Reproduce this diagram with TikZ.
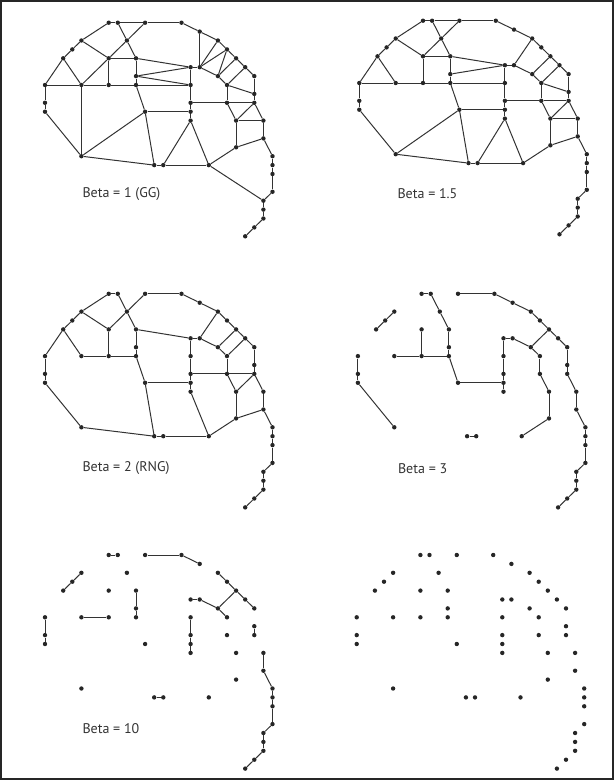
\documentclass[tikz,border=0pt]{standalone}
\usepackage{fontspec}
\setmainfont{PT Sans}
\usetikzlibrary{positioning}

% grid step of the point set
\newcommand\gx{9.1}
\newcommand\gy{8.9}
% the point set, in grid units
\newcommand\pointset{%
  \foreach \i/\j in {7/0,8/0,11/0,15/0,17/1,19/2,20/3,21/4,22/5,23/6,
      4/2,9/2,3/3,2/4,7/4,10/4,16/5,17/5,10/6,19/6,0/7,4/7,7/7,10/7,
      16/7,20/7,23/8,0/9,16/9,20/9,23/9,0/10,11/10,16/10,16/11,21/11,
      24/11,24/13,21/14,4/15,25/15,12/16,13/16,18/16,25/16,25/17,25/19,
      24/20,24/21,24/22,23/23,22/24}
    \node[dot] (p\i-\j) at (\i*\gx,\j*\gy) {};%
}

\begin{document}
\begin{tikzpicture}[x=1pt,y=-1pt,
    dot/.style={circle, fill=black!85, inner sep=0pt, minimum size=4.4pt},
    link/.style={line width=1pt, black!80},
    lbl/.style={anchor=west, font=\fontsize{14}{16}\selectfont, text=black!80},
  ]
  \useasboundingbox (0,0) rectangle (614,780);
  \draw[line width=1.2pt, black!85] (1,1) rectangle (613,779);

  % Beta = 1 (GG)
  \begin{scope}[shift={(45,22.7)}, name prefix=gg-]
    \pointset
    \foreach \a/\b in {7-0/8-0,8-0/11-0,11-0/15-0,15-0/17-1,17-1/19-2,
        19-2/20-3,20-3/21-4,21-4/22-5,22-5/23-6,7-0/4-2,4-2/3-3,3-3/2-4,
        2-4/0-7,0-7/0-9,0-9/0-10,0-10/4-15,2-4/4-7,4-2/7-4,8-0/9-2,
        11-0/9-2,9-2/7-4,9-2/10-4,7-4/10-4,7-4/7-7,7-4/4-7,0-7/4-7,
        4-7/7-7,7-7/10-7,10-7/16-7,10-4/10-6,10-6/10-7,10-7/11-10,
        4-7/4-15,4-15/11-10,4-15/12-16,11-10/12-16,12-16/13-16,
        13-16/18-16,13-16/16-11,11-10/16-10,10-4/16-5,10-6/16-5,
        10-6/16-7,16-5/17-5,16-5/16-7,16-7/16-9,16-9/16-10,16-10/16-11,
        16-11/18-16,17-1/17-5,17-5/19-2,17-5/20-3,17-5/19-6,19-6/20-3,
        19-6/21-4,19-6/20-7,20-7/22-5,20-7/23-8,23-6/23-8,23-8/23-9,
        20-7/20-9,16-9/20-9,20-9/23-9,20-9/21-11,23-9/21-11,23-9/24-11,
        21-11/24-11,21-11/21-14,24-11/24-13,21-14/24-13,18-16/21-14,
        24-13/25-15,25-15/25-16,25-16/25-17,25-17/25-19,18-16/24-20,
        25-19/24-20,24-20/24-21,24-21/24-22,24-22/23-23,23-23/22-24}
      \draw[link] (p\a) -- (p\b);
    \node[lbl] (title) at (34,171.3) {Beta = 1 (GG)};
  \end{scope}

  % Beta = 1.5
  \begin{scope}[shift={(359.3,20.7)}, name prefix=b15-]
    \pointset
    \foreach \a/\b in {7-0/8-0,8-0/11-0,11-0/15-0,15-0/17-1,17-1/19-2,
        19-2/20-3,20-3/21-4,21-4/22-5,22-5/23-6,7-0/4-2,4-2/3-3,3-3/2-4,
        2-4/0-7,0-7/0-9,0-9/0-10,0-10/4-15,2-4/4-7,4-2/7-4,8-0/9-2,
        11-0/9-2,9-2/7-4,9-2/10-4,7-4/10-4,7-4/7-7,0-7/4-7,
        4-7/7-7,7-7/10-7,10-7/16-7,10-4/10-6,10-6/10-7,10-7/11-10,
        4-15/11-10,4-15/12-16,11-10/12-16,12-16/13-16,
        13-16/18-16,13-16/16-11,11-10/16-10,10-4/16-5,10-6/16-5,
        16-5/17-5,16-5/16-7,16-7/16-9,16-9/16-10,16-10/16-11,
        16-11/18-16,17-5/19-2,17-5/19-6,
        19-6/21-4,19-6/20-7,20-7/22-5,20-7/23-8,23-6/23-8,23-8/23-9,
        20-7/20-9,16-9/20-9,20-9/23-9,20-9/21-11,23-9/21-11,23-9/24-11,
        21-11/24-11,21-11/21-14,24-11/24-13,21-14/24-13,18-16/21-14,
        24-13/25-15,25-15/25-16,25-16/25-17,25-17/25-19,
        25-19/24-20,24-20/24-21,24-21/24-22,24-22/23-23,23-23/22-24}
      \draw[link] (p\a) -- (p\b);
    \node[lbl] (title) at (34.7,173.3) {Beta = 1.5};
  \end{scope}

  % Beta = 2 (RNG)
  \begin{scope}[shift={(45,293.8)}, name prefix=b2-]
    \pointset
    \foreach \a/\b in {7-0/8-0,11-0/15-0,15-0/17-1,17-1/19-2,
        19-2/20-3,20-3/21-4,21-4/22-5,22-5/23-6,7-0/4-2,4-2/3-3,3-3/2-4,
        2-4/0-7,0-7/0-9,0-9/0-10,0-10/4-15,2-4/4-7,4-2/7-4,8-0/9-2,
        11-0/9-2,9-2/7-4,9-2/10-4,7-4/7-7,4-7/7-7,7-7/10-7,
        10-4/10-6,10-6/10-7,10-7/11-10,4-15/12-16,11-10/12-16,
        12-16/13-16,13-16/18-16,11-10/16-10,10-4/16-5,
        16-5/17-5,16-5/16-7,16-7/16-9,16-9/16-10,16-10/16-11,
        16-11/18-16,17-5/19-2,17-5/19-6,19-6/21-4,19-6/20-7,20-7/22-5,
        23-6/23-8,23-8/23-9,20-7/20-9,16-9/20-9,20-9/23-9,
        20-9/21-11,23-9/21-11,23-9/24-11,21-11/21-14,24-11/24-13,
        21-14/24-13,18-16/21-14,
        24-13/25-15,25-15/25-16,25-16/25-17,25-17/25-19,
        25-19/24-20,24-20/24-21,24-21/24-22,24-22/23-23,23-23/22-24}
      \draw[link] (p\a) -- (p\b);
    \node[lbl] (title) at (34,174) {Beta = 2 (RNG)};
  \end{scope}

  % Beta = 3
  \begin{scope}[shift={(357.9,293.8)}, name prefix=b3-]
    \pointset
    \foreach \a/\b in {7-0/8-0,11-0/15-0,15-0/17-1,17-1/19-2,
        19-2/20-3,20-3/21-4,21-4/22-5,22-5/23-6,4-2/3-3,3-3/2-4,
        0-7/0-9,0-9/0-10,0-10/4-15,8-0/9-2,9-2/10-4,7-4/7-7,4-7/7-7,
        7-7/10-7,10-4/10-6,10-6/10-7,10-7/11-10,12-16/13-16,
        11-10/16-10,16-5/17-5,16-5/16-7,16-7/16-9,16-9/16-10,
        16-10/16-11,17-5/19-6,19-6/21-4,19-6/20-7,23-6/23-8,
        23-8/23-9,20-7/20-9,20-9/21-11,23-9/24-11,21-11/21-14,
        24-11/24-13,18-16/21-14,24-13/25-15,
        25-15/25-16,25-16/25-17,25-17/25-19,25-19/24-20,24-20/24-21,
        24-21/24-22,24-22/23-23,23-23/22-24}
      \draw[link] (p\a) -- (p\b);
    \node[lbl] (title) at (36.6,174.5) {Beta = 3};
  \end{scope}

  % Beta = 10
  \begin{scope}[shift={(45,555)}, name prefix=b10-]
    \pointset
    \foreach \a/\b in {7-0/8-0,11-0/15-0,15-0/17-1,19-2/20-3,20-3/21-4,
        21-4/22-5,22-5/23-6,4-2/3-3,3-3/2-4,0-7/0-9,0-9/0-10,4-7/7-7,
        10-4/10-6,10-6/10-7,12-16/13-16,16-5/17-5,16-7/16-9,
        16-9/16-10,16-10/16-11,17-5/19-6,19-6/21-4,19-6/20-7,
        23-8/23-9,24-11/24-13,24-13/25-15,25-15/25-16,25-16/25-17,
        25-17/25-19,25-19/24-20,24-20/24-21,24-21/24-22,24-22/23-23,
        23-23/22-24}
      \draw[link] (p\a) -- (p\b);
    \node[lbl] (title) at (34,174) {Beta = 10};
  \end{scope}

  % points only
  \begin{scope}[shift={(356.7,555)}, name prefix=pts-]
    \pointset
  \end{scope}
\end{tikzpicture}
\end{document}
